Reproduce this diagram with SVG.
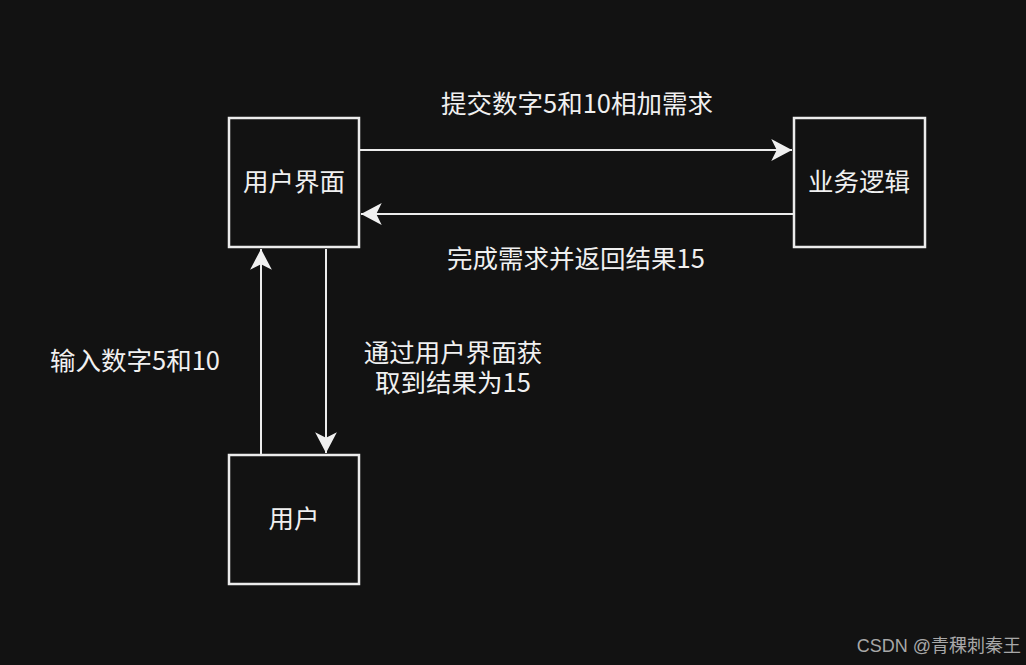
<svg xmlns="http://www.w3.org/2000/svg" width="1026" height="665" viewBox="0 0 1026 665">
<style>
.node{fill:#121212;stroke:#ececec;stroke-width:2.5}
.edge{fill:none;stroke:#ececec;stroke-width:2}
.t{font-family:"Noto Sans CJK SC","Microsoft YaHei",sans-serif;font-size:25.5px;fill:#f0f0f0;text-anchor:middle}
.wm{font-family:"Liberation Sans","Noto Sans CJK SC",sans-serif;font-size:18px;fill:#a8a8a8;text-anchor:end}
</style>
<defs>
<marker id="arr" markerUnits="userSpaceOnUse" markerWidth="24" markerHeight="24" viewBox="-20 -11 22 22" refX="0" refY="0" orient="auto">
<path d="M0,0 L-19,-10 L-14,0 L-19,10 Z" fill="#f0f0f0"/>
</marker>
</defs>
<rect width="1026" height="665" fill="#121212"/>
<g id="connectors">
<path class="edge" d="M360,150 L792,150" marker-end="url(#arr)"/>
<path class="edge" d="M793,214 L361,214" marker-end="url(#arr)"/>
<path class="edge" d="M261,454 L261,249" marker-end="url(#arr)"/>
<path class="edge" d="M326,249 L326,453" marker-end="url(#arr)"/>
<text class="t" x="577" y="113">提交数字5和10相加需求</text>
<text class="t" x="576" y="268">完成需求并返回结果15</text>
<text class="t" x="135" y="370">输入数字5和10</text>
<text class="t" x="453" y="362"><tspan x="453">通过用户界面获</tspan><tspan x="453" dy="30">取到结果为15</tspan></text>
</g>
<g id="ui">
<rect class="node" x="229" y="118" width="130" height="129"/>
<text class="t" x="294" y="191">用户界面</text>
</g>
<g id="logic">
<rect class="node" x="794" y="118" width="131" height="129"/>
<text class="t" x="859" y="191">业务逻辑</text>
</g>
<g id="user">
<rect class="node" x="229" y="455" width="130" height="129"/>
<text class="t" x="294" y="528">用户</text>
</g>
<text class="wm" x="1021" y="652">CSDN @青稞刺秦王</text>
</svg>
